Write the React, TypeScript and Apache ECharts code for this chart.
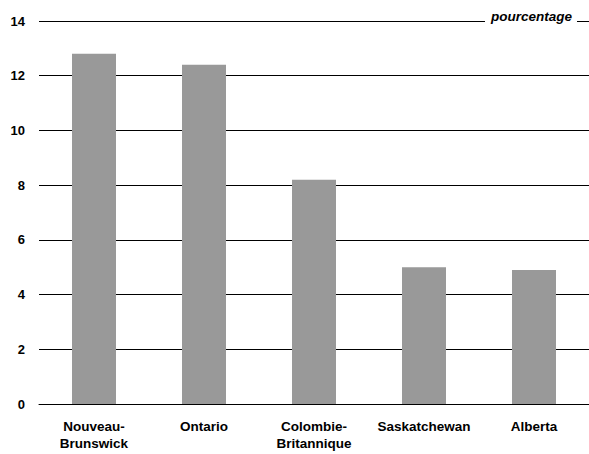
import React, { useEffect, useRef } from "react";
import * as echarts from "echarts";

const categories = ["Nouveau-\nBrunswick", "Ontario", "Colombie-\nBritannique", "Saskatchewan", "Alberta"];
const values = [12.8, 12.4, 8.2, 5.0, 4.9];
const unitLabel = "pourcentage";

export default function App() {
  const ref = useRef<HTMLDivElement>(null);
  useEffect(() => {
    const chart = echarts.init(ref.current!, null, { renderer: "svg" });
    chart.setOption({
      animation: false,
      grid: { left: 39, right: 0, top: 21, bottom: 50 },
      xAxis: {
        type: "category",
        data: categories,
        axisLine: { show: true, lineStyle: { color: "#000", width: 1 } },
        axisTick: { show: false },
        axisLabel: {
          color: "#000",
          fontFamily: "Liberation Sans, Arial, sans-serif",
          fontWeight: "bold",
          fontSize: 13.5,
          lineHeight: 17,
          margin: 14,
          interval: 0,
        },
      },
      yAxis: {
        type: "value",
        min: 0,
        max: 14,
        interval: 2,
        axisLine: { show: false },
        axisTick: { show: false },
        splitLine: { show: true, lineStyle: { color: "#000", width: 1 } },
        axisLabel: {
          color: "#000",
          fontFamily: "Liberation Sans, Arial, sans-serif",
          fontWeight: "bold",
          fontSize: 13,
          margin: 14,
        },
      },
      graphic: [
        {
          type: "text",
          right: 12,
          top: 9,
          z: 100,
          style: {
            text: unitLabel,
            fill: "#000",
            font: "italic bold 13.5px 'Liberation Sans', Arial, sans-serif",
            backgroundColor: "#fff",
            padding: [0, 5, 0, 6],
          },
        },
      ],
      series: [
        {
          type: "bar",
          data: values,
          barWidth: "40%",
          itemStyle: { color: "#999999" },
        },
      ],
    });
    return () => chart.dispose();
  }, []);
  return <div ref={ref} style={{ width: 589, height: 454, position: "absolute", left: 0, top: 0 }} />;
}
